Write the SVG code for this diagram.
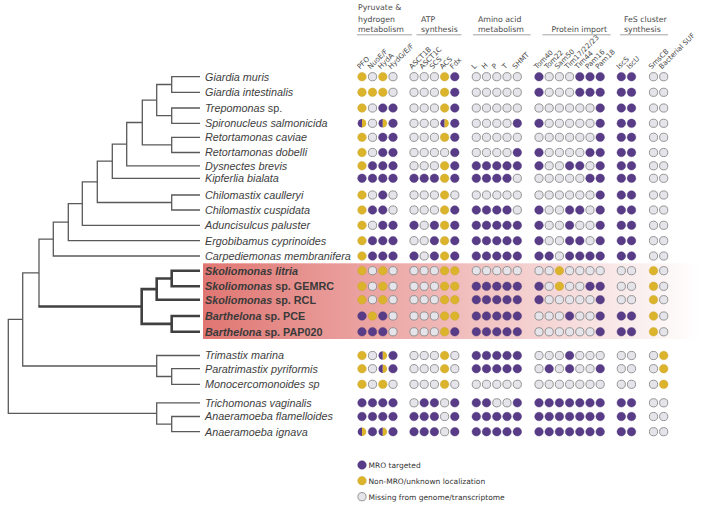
<svg xmlns="http://www.w3.org/2000/svg" width="703" height="507" viewBox="0 0 703 507">
<style>
.t{font-family:"Liberation Sans",Arial,sans-serif;font-size:10.8px;fill:#3e3e3e}
.i{font-style:italic}
.b{font-weight:bold;fill:#3a3a3a}
.h{font-family:"DejaVu Sans",Verdana,sans-serif;font-size:7.8px;fill:#4a4a4a}
.c{font-family:"DejaVu Sans",Verdana,sans-serif;font-size:7.1px;fill:#4a4a4a}
.lg{font-family:"DejaVu Sans",Verdana,sans-serif;font-size:7.5px;fill:#333}
.ul{stroke:#8a8a8a;stroke-width:0.8}
.thin{fill:none;stroke:#5a5a5a;stroke-width:1.3}
.thick{fill:none;stroke:#404040;stroke-width:2.6}
</style>
<defs>
<linearGradient id="hl" x1="0" y1="0" x2="1" y2="0">
<stop offset="0" stop-color="#e07672"/>
<stop offset="0.35" stop-color="#eba6a4"/>
<stop offset="0.8" stop-color="#f8e4e4"/>
<stop offset="1" stop-color="#ffffff"/>
</linearGradient>
<circle id="P" r="4.3" fill="#583c87" stroke="#4d3476" stroke-width="0.4"/>
<circle id="Y" r="4.3" fill="#dcb42c" stroke="#c4a028" stroke-width="0.4"/>
<circle id="G" r="4.1" fill="#e4e4ea" stroke="#8a8a8a" stroke-width="0.9"/>
<g id="H"><path d="M0,-4.3 A4.3,4.3 0 0 0 0,4.3 Z" fill="#583c87"/><path d="M0,-4.3 A4.3,4.3 0 0 1 0,4.3 Z" fill="#dcb42c"/></g>
</defs>
<rect width="703" height="507" fill="#fff"/>
<rect id="highlight" x="203" y="263.3" width="497" height="75.7" fill="url(#hl)"/>

<g id="headers">
<text class="h" x="358" y="10.2">Pyruvate &amp;</text>
<text class="h" x="358" y="21.5">hydrogen</text>
<text class="h" x="358" y="32">metabolism</text>
<line class="ul" x1="357" y1="34.8" x2="412" y2="34.8"/>
<text class="h" x="421" y="21.5">ATP</text>
<text class="h" x="421" y="32">synthesis</text>
<line class="ul" x1="416.5" y1="34.8" x2="461.5" y2="34.8"/>
<text class="h" x="478" y="21.5">Amino acid</text>
<text class="h" x="478" y="32">metabolism</text>
<line class="ul" x1="473" y1="34.8" x2="530.5" y2="34.8"/>
<text class="h" x="551.5" y="32">Protein import</text>
<line class="ul" x1="542.5" y1="34.8" x2="610.5" y2="34.8"/>
<text class="h" x="624" y="21.5">FeS cluster</text>
<text class="h" x="624" y="32">synthesis</text>
<line class="ul" x1="620" y1="34.8" x2="668" y2="34.8"/>
</g>

<g id="column-labels">
<text class="c" transform="translate(360,69.5) rotate(-45)">PFO</text>
<text class="c" transform="translate(370.5,69.5) rotate(-45)">NuoE/F</text>
<text class="c" transform="translate(380.8,69.5) rotate(-45)">HydA</text>
<text class="c" transform="translate(391,69.5) rotate(-45)">HydG/E/F</text>
<text class="c" transform="translate(412,69.5) rotate(-45)">ASCT1B</text>
<text class="c" transform="translate(422.2,69.5) rotate(-45)">ASCT1C</text>
<text class="c" transform="translate(432.4,69.5) rotate(-45)">SCS</text>
<text class="c" transform="translate(442.6,69.5) rotate(-45)">ACS</text>
<text class="c" transform="translate(452.8,69.5) rotate(-45)">Fdx</text>
<text class="c" transform="translate(474.3,69.5) rotate(-45)">L</text>
<text class="c" transform="translate(484.5,69.5) rotate(-45)">H</text>
<text class="c" transform="translate(494.8,69.5) rotate(-45)">P</text>
<text class="c" transform="translate(505,69.5) rotate(-45)">T</text>
<text class="c" transform="translate(515.3,69.5) rotate(-45)">SHMT</text>
<text class="c" transform="translate(537,69.5) rotate(-45)">Tom40</text>
<text class="c" transform="translate(547.2,69.5) rotate(-45)">Tom22</text>
<text class="c" transform="translate(557.4,69.5) rotate(-45)">Sam50</text>
<text class="c" transform="translate(567.6,69.5) rotate(-45)">Tim17/22/23</text>
<text class="c" transform="translate(577.8,69.5) rotate(-45)">Tim44</text>
<text class="c" transform="translate(588,69.5) rotate(-45)">Pam16</text>
<text class="c" transform="translate(598.2,69.5) rotate(-45)">Pam18</text>
<text class="c" transform="translate(619.3,69.5) rotate(-45)">IscS</text>
<text class="c" transform="translate(629.5,69.5) rotate(-45)">IscU</text>
<text class="c" transform="translate(651.5,69.5) rotate(-45)">SmsCB</text>
<text class="c" transform="translate(661.7,69.5) rotate(-45)">Bacterial SUF</text>
</g>

<g id="connectors">
<path class="thin" d="M200 76.7H171.7V92.3H200"/>
<path class="thin" d="M200 108H171.7V123.3H200"/>
<path class="thin" d="M171.7 84.5H156.7V115.65H171.7"/>
<path class="thin" d="M200 137.3H171.7V152.5H200"/>
<path class="thin" d="M156.7 100.1H142.3V144.9H171.7"/>
<path class="thin" d="M142.3 122.5H126.7V165.8H200"/>
<path class="thin" d="M126.7 144.15H112.3V178.3H200"/>
<path class="thin" d="M200 195H171.7V210H200"/>
<path class="thin" d="M112.3 161.2H97.3V202.5H171.7"/>
<path class="thin" d="M97.3 181.85H82.3V225.3H200"/>
<path class="thin" d="M82.3 203.6H68.3V240.7H200"/>
<path class="thin" d="M68.3 222.15H53.3V256H200"/>
<path class="thin" d="M53.3 239.1H39V306.5"/>
<path class="thin" d="M200 368.7H171.7V384.3H200"/>
<path class="thin" d="M200 355.5H156.7V376.5H171.7"/>
<path class="thin" d="M39 272.8H22.7V366H156.7"/>
<path class="thin" d="M200 416.5H171.7V431.7H200"/>
<path class="thin" d="M200 402.8H156.7V424.1H171.7"/>
<path class="thin" d="M22.7 319.4H8.3V413.45H156.7"/>
<path class="thick" d="M38.4 306.5H141.7"/>
<path class="thick" d="M200 270.7H171.7V286.3H200"/>
<path class="thick" d="M171.7 278.5H156.7V299.7H200"/>
<path class="thick" d="M200 316H171.7V331.8H200"/>
<path class="thick" d="M156.7 289.1H141.7V323.9H171.7"/>
</g>

<g id="n01" transform="translate(0,76.7)"><text class="t i" x="205" y="3.8">Giardia muris</text>
<use href="#Y" x="362"/><use href="#G" x="372.5"/><use href="#Y" x="382.8"/><use href="#G" x="393"/>
<use href="#G" x="414"/><use href="#G" x="424.2"/><use href="#G" x="434.4"/><use href="#Y" x="444.6"/><use href="#P" x="454.8"/>
<use href="#G" x="476.3"/><use href="#G" x="486.5"/><use href="#G" x="496.8"/><use href="#G" x="507"/><use href="#G" x="517.3"/>
<use href="#P" x="539"/><use href="#G" x="549.2"/><use href="#G" x="559.4"/><use href="#G" x="569.6"/><use href="#P" x="579.8"/><use href="#P" x="590"/><use href="#P" x="600.2"/>
<use href="#P" x="621.3"/><use href="#P" x="631.5"/><use href="#G" x="653.5"/><use href="#G" x="663.7"/></g>

<g id="n02" transform="translate(0,92.3)"><text class="t i" x="205" y="3.8">Giardia intestinalis</text>
<use href="#Y" x="362"/><use href="#Y" x="372.5"/><use href="#Y" x="382.8"/><use href="#G" x="393"/>
<use href="#G" x="414"/><use href="#G" x="424.2"/><use href="#G" x="434.4"/><use href="#Y" x="444.6"/><use href="#P" x="454.8"/>
<use href="#G" x="476.3"/><use href="#G" x="486.5"/><use href="#G" x="496.8"/><use href="#G" x="507"/><use href="#G" x="517.3"/>
<use href="#P" x="539"/><use href="#G" x="549.2"/><use href="#G" x="559.4"/><use href="#G" x="569.6"/><use href="#P" x="579.8"/><use href="#P" x="590"/><use href="#P" x="600.2"/>
<use href="#P" x="621.3"/><use href="#P" x="631.5"/><use href="#G" x="653.5"/><use href="#G" x="663.7"/></g>

<g id="n03" transform="translate(0,108)"><text class="t" x="205" y="3.8"><tspan class="i">Trepomonas</tspan> sp.</text>
<use href="#Y" x="362"/><use href="#G" x="372.5"/><use href="#P" x="382.8"/><use href="#P" x="393"/>
<use href="#G" x="414"/><use href="#G" x="424.2"/><use href="#G" x="434.4"/><use href="#Y" x="444.6"/><use href="#P" x="454.8"/>
<use href="#G" x="476.3"/><use href="#G" x="486.5"/><use href="#G" x="496.8"/><use href="#G" x="507"/><use href="#G" x="517.3"/>
<use href="#G" x="539"/><use href="#G" x="549.2"/><use href="#G" x="559.4"/><use href="#G" x="569.6"/><use href="#G" x="579.8"/><use href="#G" x="590"/><use href="#P" x="600.2"/>
<use href="#P" x="621.3"/><use href="#P" x="631.5"/><use href="#G" x="653.5"/><use href="#G" x="663.7"/></g>

<g id="n04" transform="translate(0,123.3)"><text class="t i" x="205" y="3.8">Spironucleus salmonicida</text>
<use href="#H" x="362"/><use href="#G" x="372.5"/><use href="#H" x="382.8"/><use href="#P" x="393"/>
<use href="#G" x="414"/><use href="#G" x="424.2"/><use href="#G" x="434.4"/><use href="#H" x="444.6"/><use href="#P" x="454.8"/>
<use href="#G" x="476.3"/><use href="#G" x="486.5"/><use href="#G" x="496.8"/><use href="#G" x="507"/><use href="#P" x="517.3"/>
<use href="#P" x="539"/><use href="#G" x="549.2"/><use href="#G" x="559.4"/><use href="#G" x="569.6"/><use href="#G" x="579.8"/><use href="#G" x="590"/><use href="#P" x="600.2"/>
<use href="#P" x="621.3"/><use href="#P" x="631.5"/><use href="#G" x="653.5"/><use href="#G" x="663.7"/></g>

<g id="n05" transform="translate(0,137.3)"><text class="t i" x="205" y="3.8">Retortamonas caviae</text>
<use href="#Y" x="362"/><use href="#G" x="372.5"/><use href="#P" x="382.8"/><use href="#P" x="393"/>
<use href="#G" x="414"/><use href="#G" x="424.2"/><use href="#G" x="434.4"/><use href="#Y" x="444.6"/><use href="#P" x="454.8"/>
<use href="#G" x="476.3"/><use href="#G" x="486.5"/><use href="#G" x="496.8"/><use href="#G" x="507"/><use href="#G" x="517.3"/>
<use href="#G" x="539"/><use href="#G" x="549.2"/><use href="#G" x="559.4"/><use href="#G" x="569.6"/><use href="#G" x="579.8"/><use href="#G" x="590"/><use href="#P" x="600.2"/>
<use href="#P" x="621.3"/><use href="#P" x="631.5"/><use href="#G" x="653.5"/><use href="#G" x="663.7"/></g>

<g id="n06" transform="translate(0,152.5)"><text class="t i" x="205" y="3.8">Retortamonas dobelli</text>
<use href="#Y" x="362"/><use href="#G" x="372.5"/><use href="#P" x="382.8"/><use href="#P" x="393"/>
<use href="#G" x="414"/><use href="#G" x="424.2"/><use href="#G" x="434.4"/><use href="#G" x="444.6"/><use href="#P" x="454.8"/>
<use href="#G" x="476.3"/><use href="#G" x="486.5"/><use href="#G" x="496.8"/><use href="#G" x="507"/><use href="#P" x="517.3"/>
<use href="#P" x="539"/><use href="#G" x="549.2"/><use href="#G" x="559.4"/><use href="#G" x="569.6"/><use href="#G" x="579.8"/><use href="#P" x="590"/><use href="#P" x="600.2"/>
<use href="#P" x="621.3"/><use href="#P" x="631.5"/><use href="#G" x="653.5"/><use href="#G" x="663.7"/></g>

<g id="n07" transform="translate(0,165.8)"><text class="t i" x="205" y="3.8">Dysnectes brevis</text>
<use href="#Y" x="362"/><use href="#P" x="372.5"/><use href="#P" x="382.8"/><use href="#P" x="393"/>
<use href="#G" x="414"/><use href="#G" x="424.2"/><use href="#G" x="434.4"/><use href="#Y" x="444.6"/><use href="#P" x="454.8"/>
<use href="#P" x="476.3"/><use href="#P" x="486.5"/><use href="#P" x="496.8"/><use href="#P" x="507"/><use href="#P" x="517.3"/>
<use href="#P" x="539"/><use href="#G" x="549.2"/><use href="#G" x="559.4"/><use href="#P" x="569.6"/><use href="#P" x="579.8"/><use href="#G" x="590"/><use href="#P" x="600.2"/>
<use href="#P" x="621.3"/><use href="#P" x="631.5"/><use href="#G" x="653.5"/><use href="#G" x="663.7"/></g>

<g id="n08" transform="translate(0,178.3)"><text class="t i" x="205" y="3.8">Kipferlia bialata</text>
<use href="#P" x="362"/><use href="#P" x="372.5"/><use href="#P" x="382.8"/><use href="#P" x="393"/>
<use href="#P" x="414"/><use href="#P" x="424.2"/><use href="#P" x="434.4"/><use href="#Y" x="444.6"/><use href="#P" x="454.8"/>
<use href="#P" x="476.3"/><use href="#P" x="486.5"/><use href="#P" x="496.8"/><use href="#P" x="507"/><use href="#G" x="517.3"/>
<use href="#G" x="539"/><use href="#G" x="549.2"/><use href="#G" x="559.4"/><use href="#G" x="569.6"/><use href="#G" x="579.8"/><use href="#P" x="590"/><use href="#P" x="600.2"/>
<use href="#P" x="621.3"/><use href="#P" x="631.5"/><use href="#G" x="653.5"/><use href="#G" x="663.7"/></g>

<g id="n09" transform="translate(0,195)"><text class="t i" x="205" y="3.8">Chilomastix caulleryi</text>
<use href="#Y" x="362"/><use href="#G" x="372.5"/><use href="#P" x="382.8"/><use href="#G" x="393"/>
<use href="#G" x="414"/><use href="#G" x="424.2"/><use href="#G" x="434.4"/><use href="#Y" x="444.6"/><use href="#G" x="454.8"/>
<use href="#G" x="476.3"/><use href="#G" x="486.5"/><use href="#G" x="496.8"/><use href="#G" x="507"/><use href="#G" x="517.3"/>
<use href="#G" x="539"/><use href="#G" x="549.2"/><use href="#G" x="559.4"/><use href="#G" x="569.6"/><use href="#G" x="579.8"/><use href="#G" x="590"/><use href="#P" x="600.2"/>
<use href="#P" x="621.3"/><use href="#P" x="631.5"/><use href="#G" x="653.5"/><use href="#G" x="663.7"/></g>

<g id="n10" transform="translate(0,210)"><text class="t i" x="205" y="3.8">Chilomastix cuspidata</text>
<use href="#Y" x="362"/><use href="#P" x="372.5"/><use href="#P" x="382.8"/><use href="#G" x="393"/>
<use href="#G" x="414"/><use href="#G" x="424.2"/><use href="#G" x="434.4"/><use href="#Y" x="444.6"/><use href="#P" x="454.8"/>
<use href="#P" x="476.3"/><use href="#P" x="486.5"/><use href="#P" x="496.8"/><use href="#P" x="507"/><use href="#G" x="517.3"/>
<use href="#P" x="539"/><use href="#G" x="549.2"/><use href="#G" x="559.4"/><use href="#P" x="569.6"/><use href="#P" x="579.8"/><use href="#G" x="590"/><use href="#P" x="600.2"/>
<use href="#P" x="621.3"/><use href="#P" x="631.5"/><use href="#G" x="653.5"/><use href="#G" x="663.7"/></g>

<g id="n11" transform="translate(0,225.3)"><text class="t i" x="205" y="3.8">Aduncisulcus paluster</text>
<use href="#Y" x="362"/><use href="#G" x="372.5"/><use href="#P" x="382.8"/><use href="#P" x="393"/>
<use href="#P" x="414"/><use href="#G" x="424.2"/><use href="#P" x="434.4"/><use href="#Y" x="444.6"/><use href="#P" x="454.8"/>
<use href="#P" x="476.3"/><use href="#P" x="486.5"/><use href="#P" x="496.8"/><use href="#P" x="507"/><use href="#P" x="517.3"/>
<use href="#P" x="539"/><use href="#G" x="549.2"/><use href="#G" x="559.4"/><use href="#P" x="569.6"/><use href="#G" x="579.8"/><use href="#G" x="590"/><use href="#P" x="600.2"/>
<use href="#P" x="621.3"/><use href="#P" x="631.5"/><use href="#G" x="653.5"/><use href="#G" x="663.7"/></g>

<g id="n12" transform="translate(0,240.7)"><text class="t i" x="205" y="3.8">Ergobibamus cyprinoides</text>
<use href="#Y" x="362"/><use href="#P" x="372.5"/><use href="#P" x="382.8"/><use href="#P" x="393"/>
<use href="#G" x="414"/><use href="#G" x="424.2"/><use href="#P" x="434.4"/><use href="#Y" x="444.6"/><use href="#P" x="454.8"/>
<use href="#P" x="476.3"/><use href="#P" x="486.5"/><use href="#P" x="496.8"/><use href="#P" x="507"/><use href="#P" x="517.3"/>
<use href="#P" x="539"/><use href="#G" x="549.2"/><use href="#G" x="559.4"/><use href="#P" x="569.6"/><use href="#P" x="579.8"/><use href="#G" x="590"/><use href="#P" x="600.2"/>
<use href="#P" x="621.3"/><use href="#P" x="631.5"/><use href="#G" x="653.5"/><use href="#G" x="663.7"/></g>

<g id="n13" transform="translate(0,256)"><text class="t i" x="205" y="3.8">Carpediemonas membranifera</text>
<use href="#Y" x="362"/><use href="#P" x="372.5"/><use href="#P" x="382.8"/><use href="#P" x="393"/>
<use href="#P" x="414"/><use href="#G" x="424.2"/><use href="#P" x="434.4"/><use href="#Y" x="444.6"/><use href="#P" x="454.8"/>
<use href="#P" x="476.3"/><use href="#P" x="486.5"/><use href="#P" x="496.8"/><use href="#P" x="507"/><use href="#P" x="517.3"/>
<use href="#P" x="539"/><use href="#P" x="549.2"/><use href="#G" x="559.4"/><use href="#P" x="569.6"/><use href="#P" x="579.8"/><use href="#P" x="590"/><use href="#P" x="600.2"/>
<use href="#P" x="621.3"/><use href="#P" x="631.5"/><use href="#G" x="653.5"/><use href="#G" x="663.7"/></g>

<g id="n14" transform="translate(0,270.7)"><text class="t i b" x="205" y="3.8">Skoliomonas litria</text>
<use href="#Y" x="362"/><use href="#G" x="372.5"/><use href="#Y" x="382.8"/><use href="#G" x="393"/>
<use href="#G" x="414"/><use href="#G" x="424.2"/><use href="#G" x="434.4"/><use href="#Y" x="444.6"/><use href="#Y" x="454.8"/>
<use href="#G" x="476.3"/><use href="#G" x="486.5"/><use href="#G" x="496.8"/><use href="#G" x="507"/><use href="#G" x="517.3"/>
<use href="#G" x="539"/><use href="#G" x="549.2"/><use href="#Y" x="559.4"/><use href="#G" x="569.6"/><use href="#G" x="579.8"/><use href="#G" x="590"/><use href="#G" x="600.2"/>
<use href="#G" x="621.3"/><use href="#G" x="631.5"/><use href="#Y" x="653.5"/><use href="#G" x="663.7"/></g>

<g id="n15" transform="translate(0,286.3)"><text class="t b" x="205" y="3.8"><tspan class="i">Skoliomonas</tspan> sp. GEMRC</text>
<use href="#Y" x="362"/><use href="#G" x="372.5"/><use href="#Y" x="382.8"/><use href="#G" x="393"/>
<use href="#G" x="414"/><use href="#G" x="424.2"/><use href="#G" x="434.4"/><use href="#Y" x="444.6"/><use href="#Y" x="454.8"/>
<use href="#P" x="476.3"/><use href="#P" x="486.5"/><use href="#P" x="496.8"/><use href="#P" x="507"/><use href="#P" x="517.3"/>
<use href="#P" x="539"/><use href="#G" x="549.2"/><use href="#Y" x="559.4"/><use href="#G" x="569.6"/><use href="#G" x="579.8"/><use href="#P" x="590"/><use href="#P" x="600.2"/>
<use href="#G" x="621.3"/><use href="#G" x="631.5"/><use href="#Y" x="653.5"/><use href="#G" x="663.7"/></g>

<g id="n16" transform="translate(0,299.7)"><text class="t b" x="205" y="3.8"><tspan class="i">Skoliomonas</tspan> sp. RCL</text>
<use href="#Y" x="362"/><use href="#G" x="372.5"/><use href="#Y" x="382.8"/><use href="#G" x="393"/>
<use href="#G" x="414"/><use href="#G" x="424.2"/><use href="#G" x="434.4"/><use href="#Y" x="444.6"/><use href="#Y" x="454.8"/>
<use href="#P" x="476.3"/><use href="#P" x="486.5"/><use href="#P" x="496.8"/><use href="#P" x="507"/><use href="#P" x="517.3"/>
<use href="#P" x="539"/><use href="#G" x="549.2"/><use href="#G" x="559.4"/><use href="#G" x="569.6"/><use href="#G" x="579.8"/><use href="#G" x="590"/><use href="#P" x="600.2"/>
<use href="#G" x="621.3"/><use href="#G" x="631.5"/><use href="#Y" x="653.5"/><use href="#G" x="663.7"/></g>

<g id="n17" transform="translate(0,316)"><text class="t b" x="205" y="3.8"><tspan class="i">Barthelona</tspan> sp. PCE</text>
<use href="#P" x="362"/><use href="#Y" x="372.5"/><use href="#P" x="382.8"/><use href="#G" x="393"/>
<use href="#G" x="414"/><use href="#G" x="424.2"/><use href="#G" x="434.4"/><use href="#Y" x="444.6"/><use href="#Y" x="454.8"/>
<use href="#P" x="476.3"/><use href="#P" x="486.5"/><use href="#P" x="496.8"/><use href="#P" x="507"/><use href="#P" x="517.3"/>
<use href="#G" x="539"/><use href="#G" x="549.2"/><use href="#G" x="559.4"/><use href="#P" x="569.6"/><use href="#G" x="579.8"/><use href="#G" x="590"/><use href="#P" x="600.2"/>
<use href="#P" x="621.3"/><use href="#P" x="631.5"/><use href="#Y" x="653.5"/><use href="#G" x="663.7"/></g>

<g id="n18" transform="translate(0,331.8)"><text class="t b" x="205" y="3.8"><tspan class="i">Barthelona</tspan> sp. PAP020</text>
<use href="#P" x="362"/><use href="#P" x="372.5"/><use href="#P" x="382.8"/><use href="#G" x="393"/>
<use href="#G" x="414"/><use href="#G" x="424.2"/><use href="#G" x="434.4"/><use href="#Y" x="444.6"/><use href="#P" x="454.8"/>
<use href="#P" x="476.3"/><use href="#P" x="486.5"/><use href="#P" x="496.8"/><use href="#P" x="507"/><use href="#P" x="517.3"/>
<use href="#G" x="539"/><use href="#G" x="549.2"/><use href="#G" x="559.4"/><use href="#G" x="569.6"/><use href="#G" x="579.8"/><use href="#G" x="590"/><use href="#P" x="600.2"/>
<use href="#P" x="621.3"/><use href="#P" x="631.5"/><use href="#Y" x="653.5"/><use href="#G" x="663.7"/></g>

<g id="n19" transform="translate(0,355.5)"><text class="t i" x="205" y="3.8">Trimastix marina</text>
<use href="#Y" x="362"/><use href="#G" x="372.5"/><use href="#H" x="382.8"/><use href="#P" x="393"/>
<use href="#G" x="414"/><use href="#G" x="424.2"/><use href="#G" x="434.4"/><use href="#Y" x="444.6"/><use href="#G" x="454.8"/>
<use href="#P" x="476.3"/><use href="#P" x="486.5"/><use href="#P" x="496.8"/><use href="#P" x="507"/><use href="#P" x="517.3"/>
<use href="#G" x="539"/><use href="#G" x="549.2"/><use href="#G" x="559.4"/><use href="#P" x="569.6"/><use href="#G" x="579.8"/><use href="#G" x="590"/><use href="#G" x="600.2"/>
<use href="#G" x="621.3"/><use href="#G" x="631.5"/><use href="#G" x="653.5"/><use href="#Y" x="663.7"/></g>

<g id="n20" transform="translate(0,368.7)"><text class="t i" x="205" y="3.8">Paratrimastix pyriformis</text>
<use href="#Y" x="362"/><use href="#G" x="372.5"/><use href="#H" x="382.8"/><use href="#P" x="393"/>
<use href="#G" x="414"/><use href="#G" x="424.2"/><use href="#G" x="434.4"/><use href="#Y" x="444.6"/><use href="#G" x="454.8"/>
<use href="#P" x="476.3"/><use href="#P" x="486.5"/><use href="#P" x="496.8"/><use href="#P" x="507"/><use href="#P" x="517.3"/>
<use href="#G" x="539"/><use href="#P" x="549.2"/><use href="#G" x="559.4"/><use href="#P" x="569.6"/><use href="#G" x="579.8"/><use href="#G" x="590"/><use href="#P" x="600.2"/>
<use href="#G" x="621.3"/><use href="#G" x="631.5"/><use href="#G" x="653.5"/><use href="#Y" x="663.7"/></g>

<g id="n21" transform="translate(0,384.3)"><text class="t i" x="205" y="3.8">Monocercomonoides sp</text>
<use href="#Y" x="362"/><use href="#G" x="372.5"/><use href="#Y" x="382.8"/><use href="#G" x="393"/>
<use href="#G" x="414"/><use href="#G" x="424.2"/><use href="#G" x="434.4"/><use href="#Y" x="444.6"/><use href="#G" x="454.8"/>
<use href="#G" x="476.3"/><use href="#G" x="486.5"/><use href="#G" x="496.8"/><use href="#G" x="507"/><use href="#G" x="517.3"/>
<use href="#G" x="539"/><use href="#G" x="549.2"/><use href="#G" x="559.4"/><use href="#G" x="569.6"/><use href="#G" x="579.8"/><use href="#G" x="590"/><use href="#G" x="600.2"/>
<use href="#G" x="621.3"/><use href="#G" x="631.5"/><use href="#G" x="653.5"/><use href="#Y" x="663.7"/></g>

<g id="n22" transform="translate(0,402.8)"><text class="t i" x="205" y="3.8">Trichomonas vaginalis</text>
<use href="#P" x="362"/><use href="#P" x="372.5"/><use href="#P" x="382.8"/><use href="#P" x="393"/>
<use href="#G" x="414"/><use href="#P" x="424.2"/><use href="#P" x="434.4"/><use href="#G" x="444.6"/><use href="#P" x="454.8"/>
<use href="#P" x="476.3"/><use href="#P" x="486.5"/><use href="#G" x="496.8"/><use href="#G" x="507"/><use href="#P" x="517.3"/>
<use href="#P" x="539"/><use href="#P" x="549.2"/><use href="#P" x="559.4"/><use href="#P" x="569.6"/><use href="#P" x="579.8"/><use href="#P" x="590"/><use href="#P" x="600.2"/>
<use href="#P" x="621.3"/><use href="#P" x="631.5"/><use href="#G" x="653.5"/><use href="#G" x="663.7"/></g>

<g id="n23" transform="translate(0,416.5)"><text class="t i" x="205" y="3.8">Anaeramoeba flamelloides</text>
<use href="#P" x="362"/><use href="#P" x="372.5"/><use href="#P" x="382.8"/><use href="#P" x="393"/>
<use href="#P" x="414"/><use href="#P" x="424.2"/><use href="#P" x="434.4"/><use href="#G" x="444.6"/><use href="#P" x="454.8"/>
<use href="#P" x="476.3"/><use href="#P" x="486.5"/><use href="#P" x="496.8"/><use href="#P" x="507"/><use href="#P" x="517.3"/>
<use href="#P" x="539"/><use href="#P" x="549.2"/><use href="#P" x="559.4"/><use href="#P" x="569.6"/><use href="#P" x="579.8"/><use href="#P" x="590"/><use href="#P" x="600.2"/>
<use href="#P" x="621.3"/><use href="#P" x="631.5"/><use href="#G" x="653.5"/><use href="#G" x="663.7"/></g>

<g id="n24" transform="translate(0,431.7)"><text class="t i" x="205" y="3.8">Anaeramoeba ignava</text>
<use href="#H" x="362"/><use href="#P" x="372.5"/><use href="#H" x="382.8"/><use href="#P" x="393"/>
<use href="#P" x="414"/><use href="#P" x="424.2"/><use href="#P" x="434.4"/><use href="#G" x="444.6"/><use href="#P" x="454.8"/>
<use href="#P" x="476.3"/><use href="#P" x="486.5"/><use href="#P" x="496.8"/><use href="#P" x="507"/><use href="#P" x="517.3"/>
<use href="#P" x="539"/><use href="#P" x="549.2"/><use href="#P" x="559.4"/><use href="#P" x="569.6"/><use href="#P" x="579.8"/><use href="#P" x="590"/><use href="#P" x="600.2"/>
<use href="#P" x="621.3"/><use href="#P" x="631.5"/><use href="#G" x="653.5"/><use href="#G" x="663.7"/></g>

<g id="legend">
<use href="#P" x="362" y="465"/><text class="lg" x="368.5" y="467.8">MRO targeted</text>
<use href="#Y" x="362" y="480.7"/><text class="lg" x="368.5" y="483.5">Non-MRO/unknown localization</text>
<use href="#G" x="362" y="496.7"/><text class="lg" x="368.5" y="499.5">Missing from genome/transcriptome</text>
</g>
</svg>
